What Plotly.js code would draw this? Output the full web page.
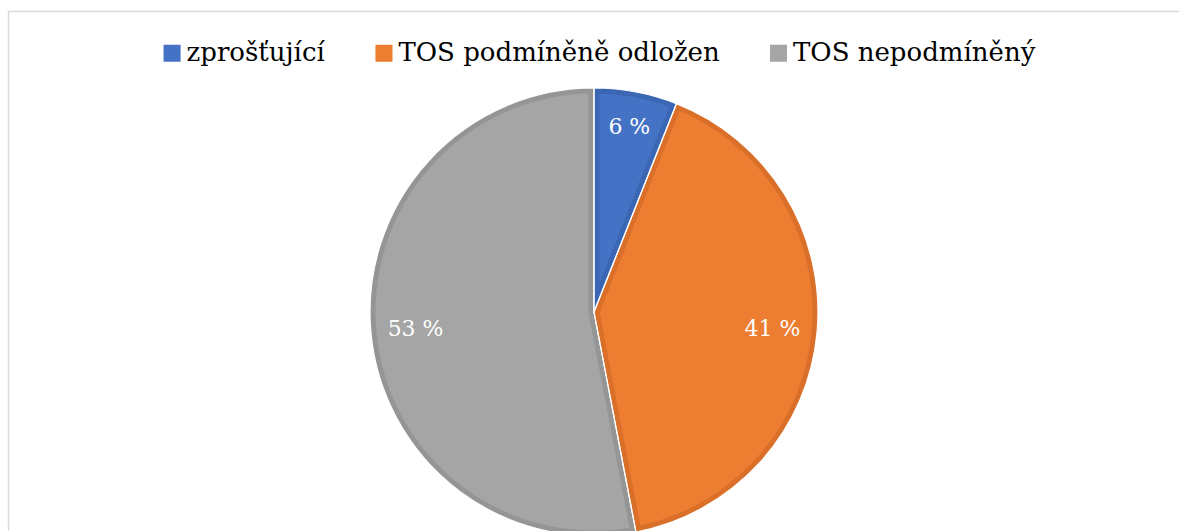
<!DOCTYPE html>
<html>
<head>
<meta charset="utf-8">
<script src="https://cdn.plot.ly/plotly-3.0.1.min.js"></script>
<style>
html,body{margin:0;padding:0;background:#fff;overflow:hidden;}
#chart{width:1179px;height:545px;}
</style>
</head>
<body>
<div id="chart"></div>
<script>
const labels = ["zprošťující", "TOS podmíněně odložen", "TOS nepodmíněný"];
const values = [6, 41, 53];
const fillColors = ["#4472C4", "#ED7D31", "#A5A5A5"];
const borderColors = ["#3B66B3", "#D96F28", "#959595"];

const serif = "DejaVu Serif";
const pieDomain = {x: [0.3138, 0.6938], y: [0.0165, 0.8385]};
const common = {
  type: "pie", labels: labels, values: values, sort: false,
  direction: "clockwise", rotation: 0, domain: pieDomain, hoverinfo: "skip"
};

const traces = [
  Object.assign({}, common, {
    name: "main",
    marker: {colors: fillColors, line: {color: borderColors, width: 11}},
    textinfo: "none", showlegend: true
  }),
  Object.assign({}, common, {
    name: "sep",
    marker: {colors: ["rgba(0,0,0,0)","rgba(0,0,0,0)","rgba(0,0,0,0)"], line: {color: "#ffffff", width: 1.2}},
    textinfo: "none", showlegend: false
  }),
  Object.assign({}, common, {
    name: "txt", hole: 0.6,
    marker: {colors: ["rgba(0,0,0,0)","rgba(0,0,0,0)","rgba(0,0,0,0)"], line: {width: 0}},
    texttemplate: "%{value} %", textposition: "inside", insidetextorientation: "horizontal",
    insidetextfont: {family: serif, size: 22, color: "#ffffff"},
    showlegend: false
  })
];

const layout = {
  width: 1179, height: 545,
  margin: {l: 0, r: 0, t: 0, b: 0},
  paper_bgcolor: "#ffffff",
  showlegend: true,
  legend: {
    orientation: "h", x: 0.492, xanchor: "center", y: 0.949, yanchor: "top",
    bgcolor: "rgba(0,0,0,0)", itemwidth: 58,
    font: {family: serif, size: 26, color: "#000000"},
    traceorder: "normal"
  },
  shapes: [{
    type: "rect", xref: "paper", yref: "paper",
    x0: 8.5/1179, x1: 1.05, y0: -0.1, y1: 1 - 11.5/545,
    line: {color: "#D9D9D9", width: 1.5}, fillcolor: "rgba(0,0,0,0)", layer: "below"
  }]
};

Plotly.newPlot("chart", traces, layout, {displayModeBar: false, staticPlot: true}).then(function(gd){
  const NS = "http://www.w3.org/2000/svg";
  const svg = gd.querySelector(".main-svg");
  let defs = svg.querySelector("defs");
  if (!defs) { defs = document.createElementNS(NS, "defs"); svg.insertBefore(defs, svg.firstChild); }
  const pieTraces = gd.querySelectorAll(".pielayer .trace");
  if (pieTraces.length) {
    pieTraces[0].querySelectorAll("path.surface").forEach(function(p, i){
      const cp = document.createElementNS(NS, "clipPath");
      cp.setAttribute("id", "sliceclip" + i);
      const cpp = document.createElementNS(NS, "path");
      cpp.setAttribute("d", p.getAttribute("d"));
      cp.appendChild(cpp);
      defs.appendChild(cp);
      p.setAttribute("clip-path", "url(#sliceclip" + i + ")");
    });
  }
  gd.querySelectorAll(".legend .traces").forEach(function(item){
    const p = item.querySelector(".legendpoints path");
    const t = item.querySelector("text.legendtext");
    if (!p || !t) return;
    p.style.strokeWidth = "0px";
    const tr = t.getBoundingClientRect();
    const pr = p.getBoundingClientRect();
    const cx = (pr.left + pr.right) / 2;
    const targetCx = tr.left - 6 - 8.5;
    const base = p.getAttribute("transform") || "";
    p.setAttribute("transform", base + " translate(" + (targetCx - cx) + ",2) scale(1.42)");
  });
});
</script>
</body>
</html>
